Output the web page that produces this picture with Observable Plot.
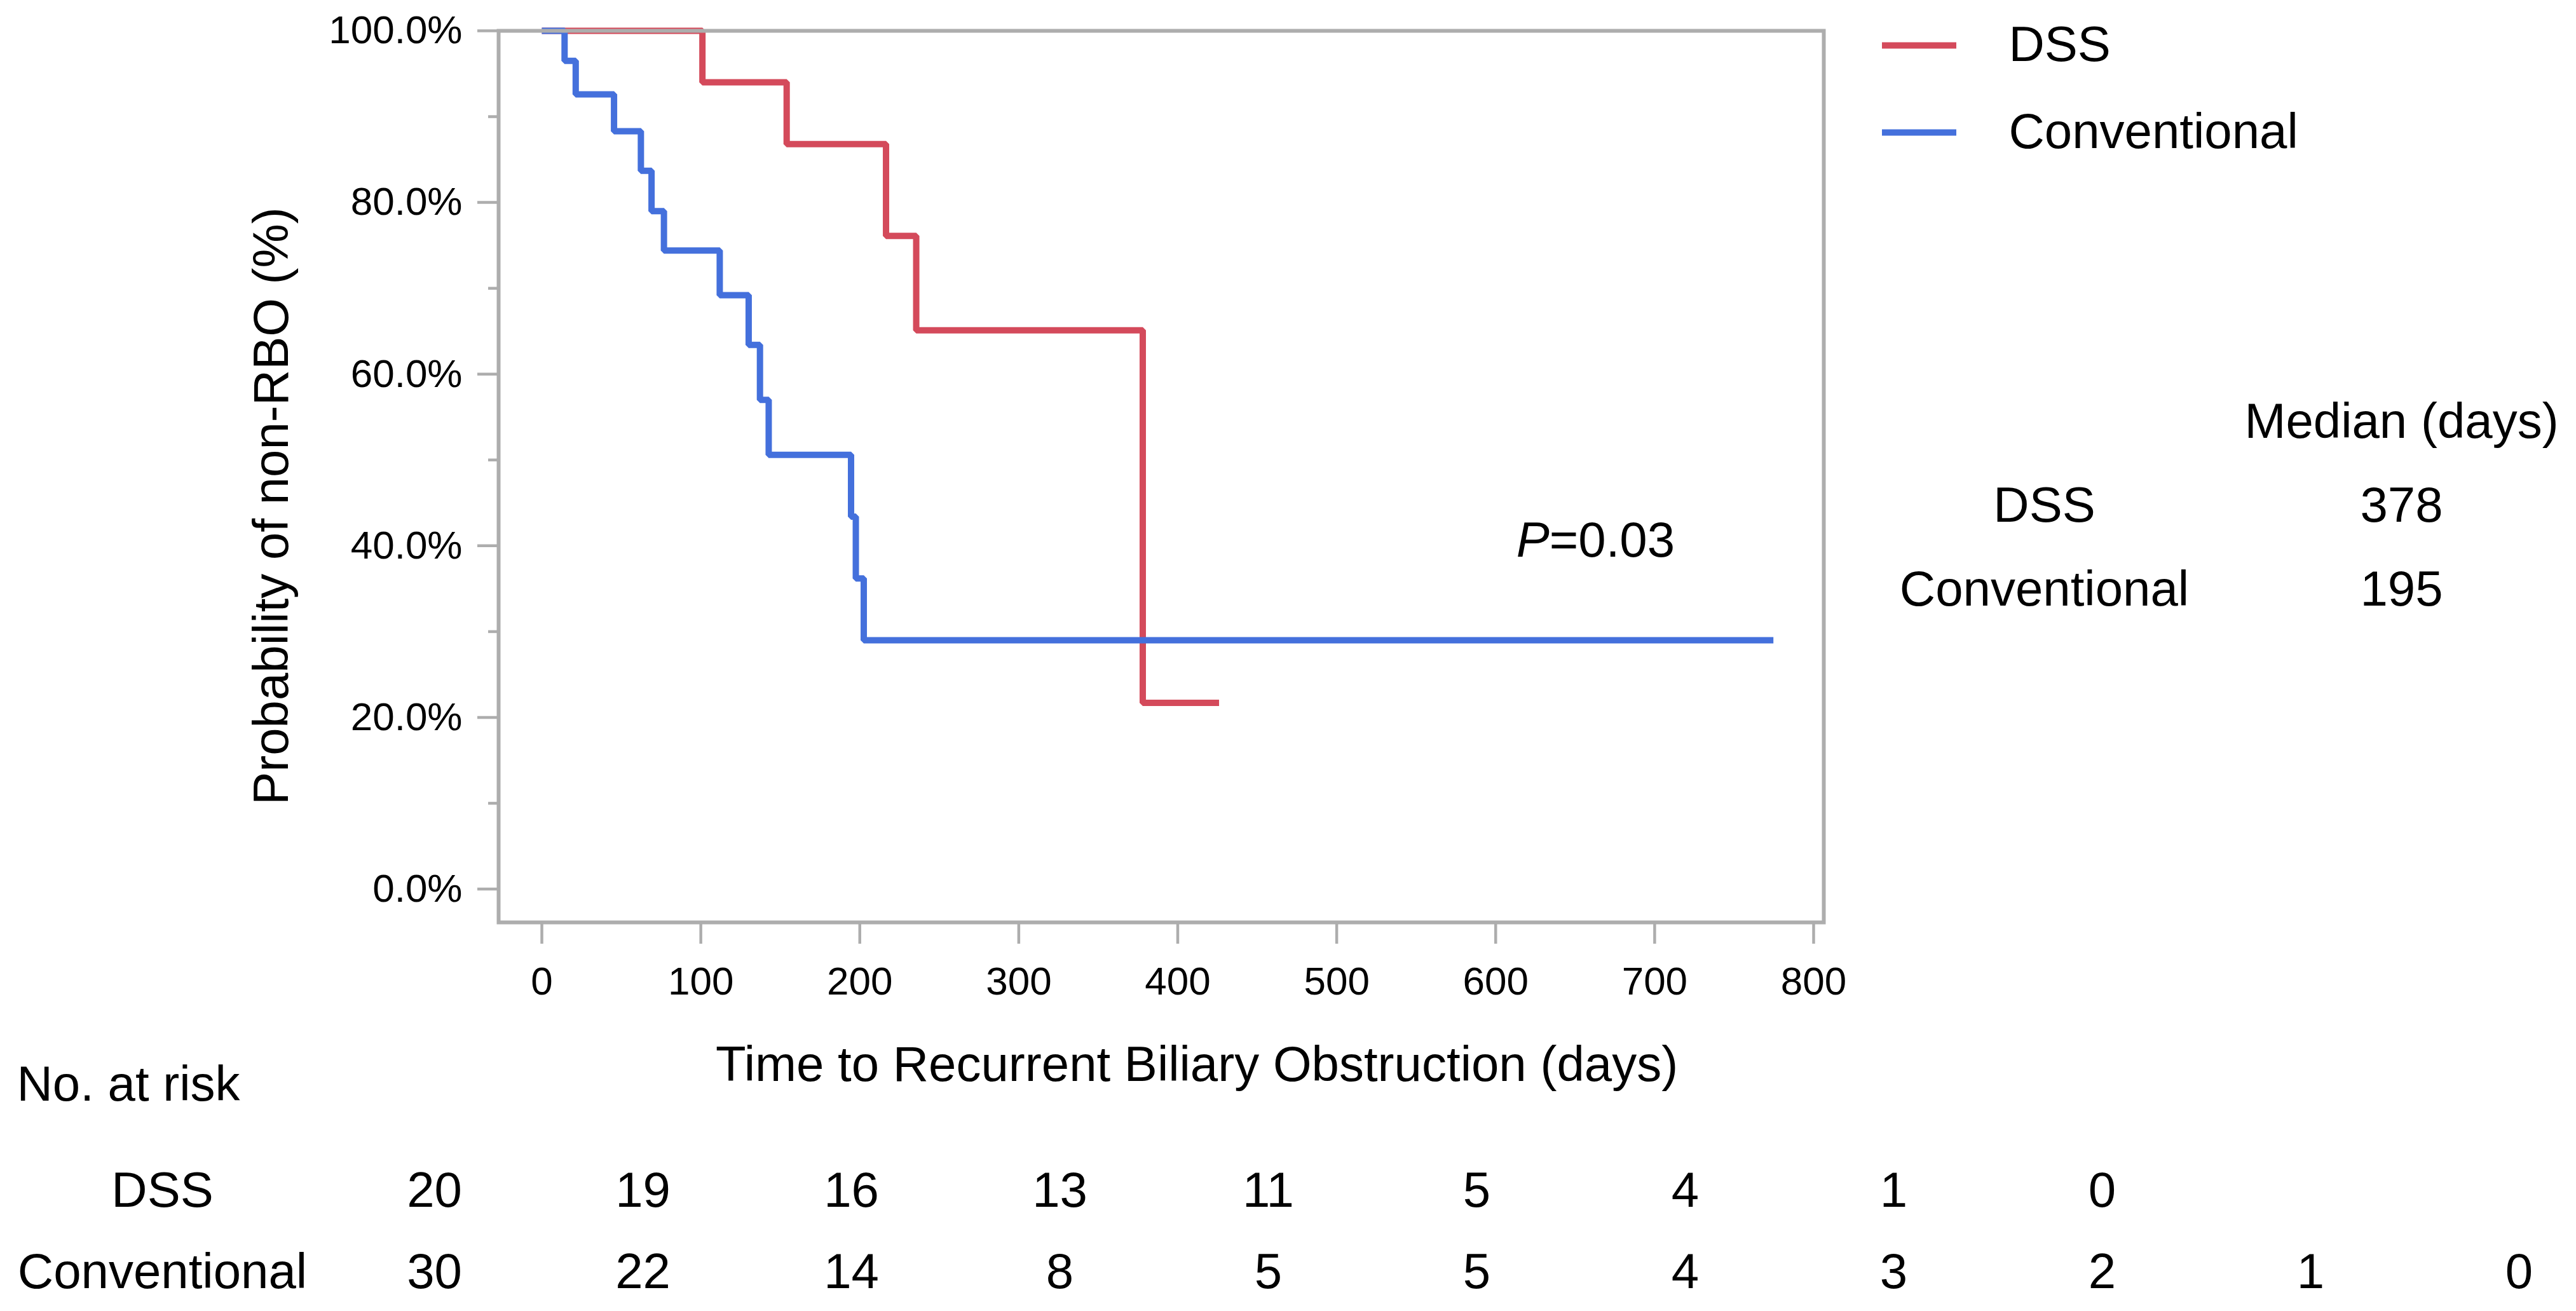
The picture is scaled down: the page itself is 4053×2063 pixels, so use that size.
<!DOCTYPE html>
<html><head><meta charset="utf-8">
<script src="https://cdn.jsdelivr.net/npm/d3@7"></script>
<script src="https://cdn.jsdelivr.net/npm/@observablehq/plot@0.6"></script>
<style>
html,body{margin:0;padding:0;background:#fff;}
#wrap{position:relative;width:4053px;height:2063px;background:#fff;overflow:hidden;}
#wrap > .layer{position:absolute;}
</style></head><body><div id="wrap"></div>
<script>
// ---------- data ----------
const groups = ["DSS", "Conventional"];
const colors = ["#d44a5b", "#4470dc"];
const dssDays = [0, 101, 154, 216.5, 235.5, 378, 426];
const dssSurv = [100, 94.0, 86.8, 76.1, 65.1, 21.7, 21.7];
const convDays = [0, 14.3, 21.3, 45.4, 62.3, 69.0, 76.8, 111.9, 130.1, 137.2, 142.7, 194.5, 197.5, 202.5, 774.7];
const convSurv = [100, 96.5, 92.6, 88.3, 83.7, 79.0, 74.4, 69.2, 63.4, 57.0, 50.6, 43.4, 36.2, 29.0, 29.0];
const xTicks = [0, 100, 200, 300, 400, 500, 600, 700, 800];
const yTicks = [0, 20, 40, 60, 80, 100];
const yMinorTicks = [10, 30, 50, 70, 90];
const xTitle = "Time to Recurrent Biliary Obstruction (days)";
const yTitle = "Probability of non-RBO (%)";
const pLabel = "P";
const pValueText = "=0.03";
const pDay = [613];
const pPct = [40.6];
const atRiskTitle = "No. at risk";
const atRiskCols = [0, 1, 2, 3, 4, 5, 6, 7, 8, 9, 10];
const dssAtRisk = [20, 19, 16, 13, 11, 5, 4, 1, 0];
const convAtRisk = [30, 22, 14, 8, 5, 5, 4, 3, 2, 1, 0];
const medianHeader = "Median (days)";
const medianValues = [378, 195];

// ---------- build tables ----------
const FONT = '"Liberation Sans", Arial, Helvetica, sans-serif';
const baseStyle = {fontFamily: FONT, fontSize: "62px", color: "#000", background: "transparent", overflow: "visible"};
const curve = [
  ...dssDays.map((d, i) => ({group: "DSS", day: d, surv: dssSurv[i]})),
  ...convDays.map((d, i) => ({group: "Conventional", day: d, surv: convSurv[i]}))
];
const atRisk = [
  ...dssAtRisk.map((n, i) => ({group: "DSS", col: atRiskCols[i], n})),
  ...convAtRisk.map((n, i) => ({group: "Conventional", col: atRiskCols[i], n}))
];
const medianRows = [
  {row: "header", col: "value", text: medianHeader},
  ...groups.map(g => ({row: g, col: "label", text: g})),
  ...groups.map((g, i) => ({row: g, col: "value", text: String(medianValues[i])}))
];

const wrap = document.getElementById("wrap");
function place(svg, left, top) {
  const d = document.createElement("div");
  d.className = "layer";
  d.style.left = left + "px";
  d.style.top = top + "px";
  d.appendChild(svg);
  wrap.appendChild(d);
}

const GRAY = "#adadad";

// ---------- main KM chart ----------
const main = Plot.plot({
  width: 4053, height: 1760,
  marginLeft: 784, marginRight: 1184, marginTop: 48, marginBottom: 309,
  style: baseStyle,
  x: {domain: [-27.2, 806.4]},
  y: {domain: [-3.88, 100]},
  color: {domain: groups, range: colors},
  marks: [
    Plot.line(curve, {x: "day", y: "surv", z: "group", stroke: "group", curve: "step-after",
      strokeWidth: 10, strokeLinejoin: "miter", strokeLinecap: "butt"}),
    Plot.frame({stroke: GRAY, strokeWidth: 6}),
    Plot.axisX(xTicks, {anchor: "bottom", tickSize: 34, tickPadding: 35, stroke: GRAY, strokeWidth: 4.5,
      fill: "#000", fontSize: 62, label: null, tickFormat: d => String(d)}),
    Plot.axisY(yTicks, {anchor: "left", tickSize: 33, tickPadding: 24, stroke: GRAY, strokeWidth: 4.5,
      fill: "#000", fontSize: 62, label: null, tickFormat: d => d.toFixed(1) + "%"}),
    Plot.axisY(yMinorTicks, {anchor: "left", tickSize: 16, stroke: GRAY, strokeWidth: 4.5,
      label: null, tickFormat: () => ""}),
    Plot.text([yTitle], {frameAnchor: "left", rotate: -90, textAnchor: "middle", dx: -356, dy: 46.5, fontSize: 78, fill: "#000"}),
    Plot.text([xTitle], {frameAnchor: "bottom", textAnchor: "middle", dx: 56, dy: 249, fontSize: 78, fill: "#000"}),
    Plot.text([pLabel], {x: pDay, y: pPct, textAnchor: "start", fontStyle: "italic", fontSize: 78, fill: "#000"}),
    Plot.text([pValueText], {x: pDay, y: pPct, textAnchor: "start", dx: 52, fontSize: 78, fill: "#000"})
  ]
});
place(main, 0, 0);

// ---------- legend ----------
const legend = Plot.plot({
  width: 1153, height: 300,
  marginLeft: 61, marginRight: 975, marginTop: 71, marginBottom: 92,
  style: baseStyle,
  y: {type: "point", domain: groups, padding: 0, axis: null},
  color: {domain: groups, range: colors},
  marks: [
    Plot.ruleY(groups, {y: d => d, stroke: d => d, strokeWidth: 10}),
    Plot.text(groups, {y: d => d, text: d => d, frameAnchor: "right", textAnchor: "start", dx: 82, fontSize: 78, fill: "#000"})
  ]
});
place(legend, 2900, 0);

// ---------- median table ----------
const medianPlot = Plot.plot({
  width: 1153, height: 1000,
  marginLeft: 316, marginRight: 275, marginTop: 663, marginBottom: 72,
  style: baseStyle,
  x: {type: "point", domain: ["label", "value"], padding: 0, axis: null},
  y: {type: "point", domain: ["header", ...groups], padding: 0, axis: null},
  marks: [
    Plot.text(medianRows, {x: "col", y: "row", text: "text", fontSize: 78, fill: "#000"})
  ]
});
place(medianPlot, 2900, 0);

// ---------- number at risk ----------
const riskPlot = Plot.plot({
  width: 4053, height: 423,
  marginLeft: 679, marginRight: 86, marginTop: 234, marginBottom: 61,
  style: baseStyle,
  x: {type: "point", domain: atRiskCols, padding: 0, axis: null},
  y: {type: "point", domain: groups, padding: 0, axis: null},
  marks: [
    Plot.text(atRisk, {x: "col", y: "group", text: d => String(d.n), fontSize: 78, fill: "#000"}),
    Plot.text(groups, {y: d => d, text: d => d, frameAnchor: "left", dx: -424, textAnchor: "middle", fontSize: 78, fill: "#000"}),
    Plot.text([atRiskTitle], {frameAnchor: "top-left", textAnchor: "start", dx: -653, dy: -198, fontSize: 78, fill: "#000"})
  ]
});
place(riskPlot, 0, 1640);
</script></body></html>
